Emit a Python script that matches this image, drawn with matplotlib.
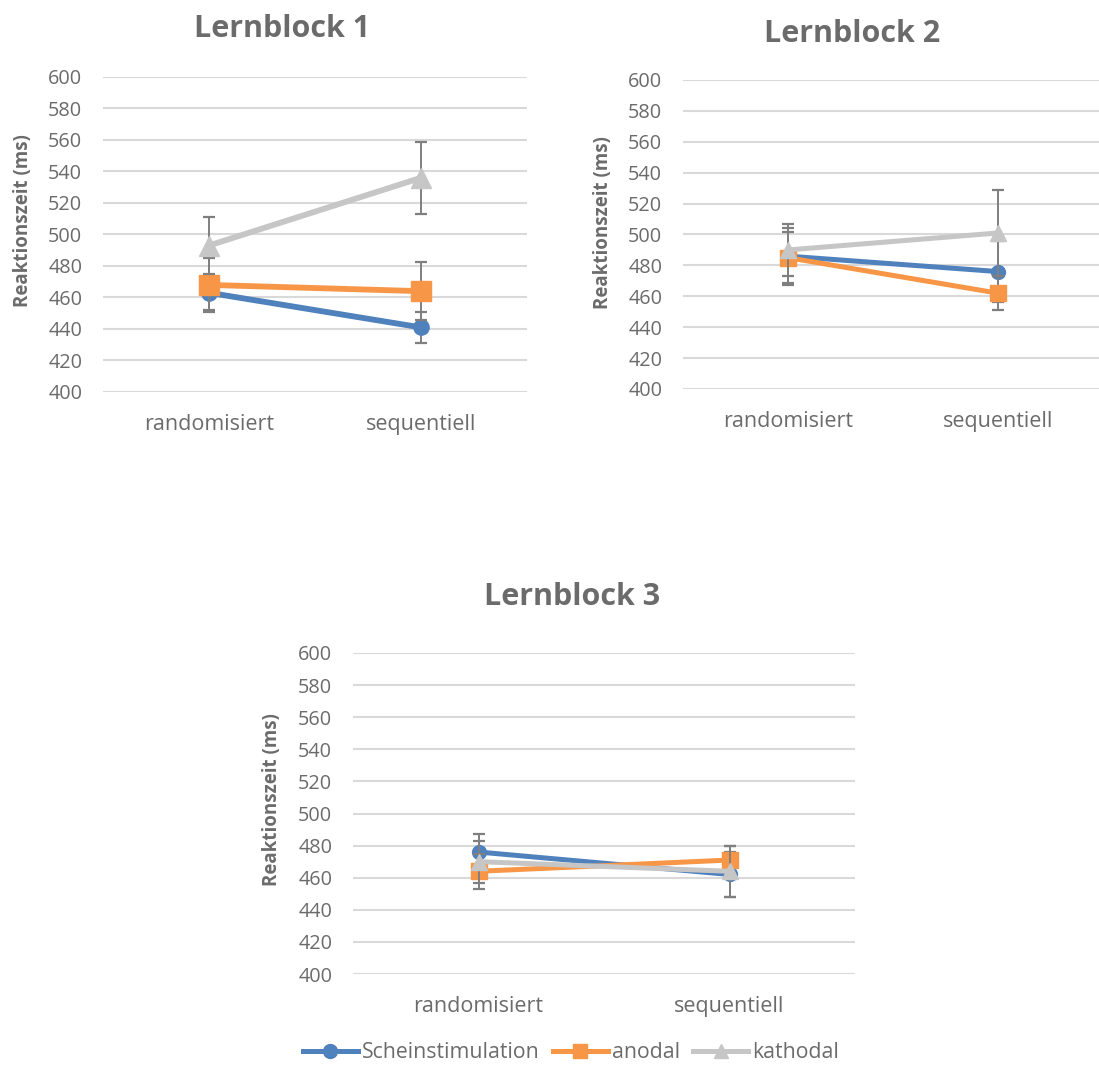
import matplotlib
matplotlib.use("Agg")
import matplotlib.pyplot as plt
from matplotlib.lines import Line2D

plt.rcParams['font.family'] = ['Open Sans', 'DejaVu Sans']

# Mittelwerte und Fehler (ms) je Lernblock, Reihenfolge: randomisiert, sequentiell
categories = ['randomisiert', 'sequentiell']
series_names = ['Scheinstimulation', 'anodal', 'kathodal']

block1_mean = {'Scheinstimulation': [463, 441], 'anodal': [468, 464], 'kathodal': [493, 536]}
block1_err = {'Scheinstimulation': [11, 10], 'anodal': [17, 18.5], 'kathodal': [18, 23]}

block2_mean = {'Scheinstimulation': [486, 476], 'anodal': [485, 462], 'kathodal': [490, 501]}
block2_err = {'Scheinstimulation': [18.5, 19.5], 'anodal': [16.5, 11], 'kathodal': [17, 28]}

block3_mean = {'Scheinstimulation': [476, 462], 'anodal': [464, 471], 'kathodal': [470, 464]}
block3_err = {'Scheinstimulation': [11, 14], 'anodal': [11, 9], 'kathodal': [13, 16]}

colors = {'Scheinstimulation': '#4f81bd', 'anodal': '#f79646', 'kathodal': '#c6c6c6'}
markers = {'Scheinstimulation': 'o', 'anodal': 's', 'kathodal': '^'}
text_col = '#6b6b6b'
grid_col = '#d9d9d9'
err_col = '#7f7f7f'

W, H = 1099, 1066
fig = plt.figure(figsize=(W / 100, H / 100), dpi=100)


def px_rect(x0, y0, x1, y1):
    return [x0 / W, 1 - y1 / H, (x1 - x0) / W, (y1 - y0) / H]


def draw_block(rect, means, errs, title, title_xy, ylab_xy, msize, lw, xmax=1.5):
    ax = fig.add_axes(px_rect(*rect))
    x = list(range(len(categories)))
    for i, name in enumerate(series_names):
        ax.errorbar(x, means[name], yerr=errs[name], fmt='none', ecolor=err_col,
                    elinewidth=1.4, capsize=4.5, capthick=1.6, zorder=3 + 2 * i)
        ax.plot(x, means[name], color=colors[name], lw=lw, marker=markers[name],
                ms=msize[name], zorder=4 + 2 * i, solid_capstyle='round')
    ax.set_ylim(400, 600)
    ax.set_xlim(-0.5, xmax)
    ax.set_yticks(range(400, 601, 20))
    ax.set_xticks(x)
    ax.set_xticklabels(categories)
    ax.tick_params(length=0, labelcolor=text_col)
    ax.tick_params(axis='y', pad=15, labelsize=14.3)
    ax.tick_params(axis='x', pad=16, labelsize=15.5)
    ax.grid(axis='y', color=grid_col, lw=1.5)
    ax.set_axisbelow(True)
    for s in ax.spines.values():
        s.set_visible(False)
    fig.text(title_xy[0] / W, 1 - title_xy[1] / H, title, ha='center', va='center',
             fontsize=22, fontweight='bold', color=text_col)
    fig.text(ylab_xy[0] / W, 1 - ylab_xy[1] / H, 'Reaktionszeit (ms)', rotation=90,
             ha='center', va='center', fontsize=13.5, fontweight='bold', color=text_col)
    return ax


big = {'Scheinstimulation': 11, 'anodal': 15, 'kathodal': 15}
small = {'Scheinstimulation': 10, 'anodal': 11, 'kathodal': 11}

draw_block((103, 77, 527, 392), block1_mean, block1_err, 'Lernblock 1',
           (282, 29), (23, 221), big, 4.2)
draw_block((683, 80, 1099, 389), block2_mean, block2_err, 'Lernblock 2',
           (852, 34), (603, 223), small, 3.6, xmax=1.48)
draw_block((353, 653, 855, 974), block3_mean, block3_err, 'Lernblock 3',
           (572, 597), (272, 800), small, 3.6)

handles = [Line2D([0], [0], color=colors[n], lw=3.6, marker=markers[n], ms=10)
           for n in series_names]
fig.legend(handles, series_names, loc='center', bbox_to_anchor=(571 / W, 1 - 1053 / H),
           ncol=3, frameon=False, fontsize=15.3, labelcolor=text_col,
           handlelength=2.6, handletextpad=0.2, columnspacing=0.6)

fig.savefig('out.png', dpi=100)
